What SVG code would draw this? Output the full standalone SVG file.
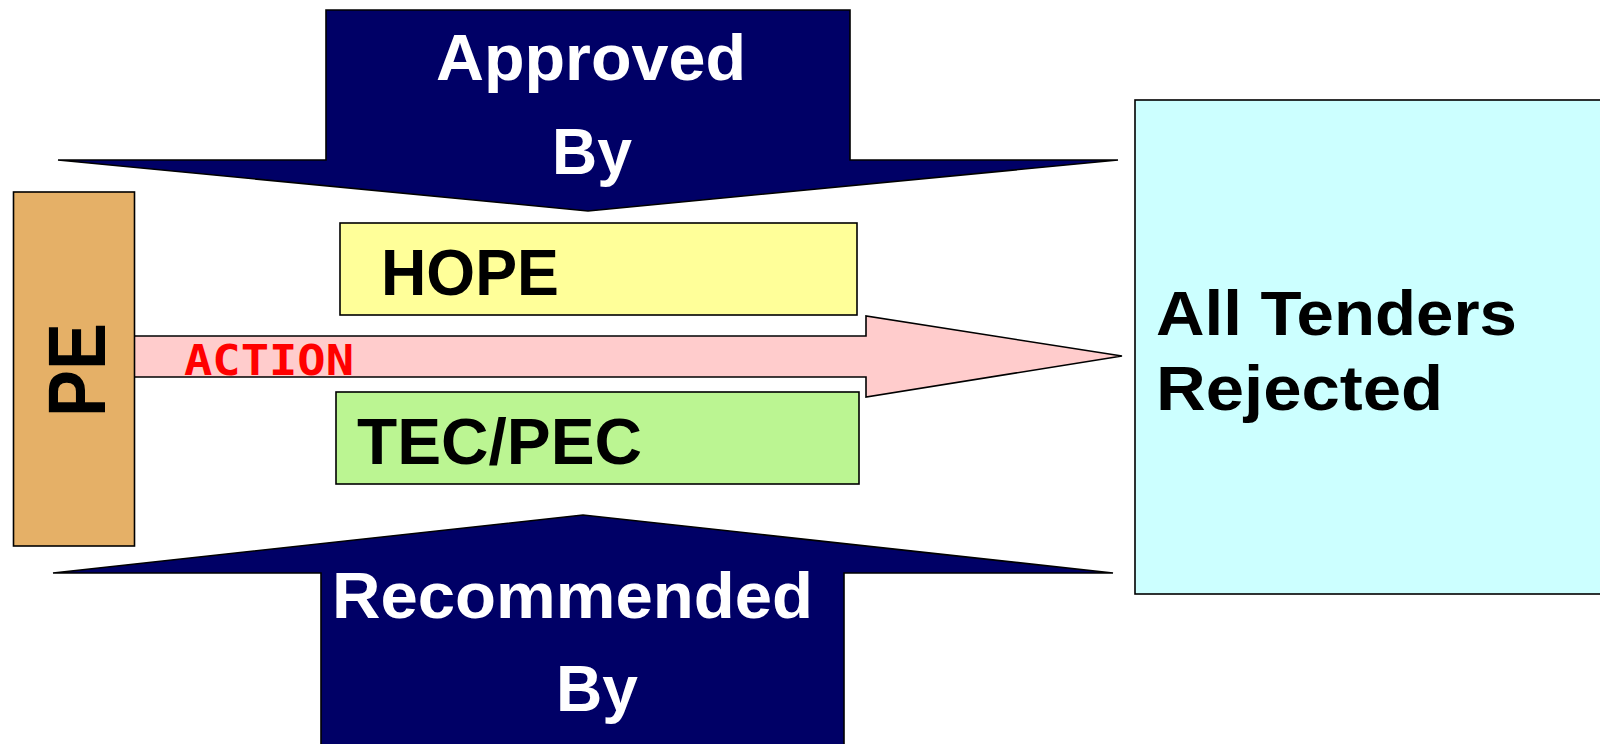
<svg xmlns="http://www.w3.org/2000/svg" width="1600" height="744" viewBox="0 0 1600 744">
<style>
.sh{stroke:#000;stroke-width:1.6;stroke-linejoin:miter}
.navy{fill:#000066}
.wt{fill:#fff;font-family:"Liberation Sans",Arial,sans-serif;font-weight:bold;font-size:64px;text-anchor:middle}
.bk{fill:#000;font-family:"Liberation Sans",Arial,sans-serif;font-weight:bold;font-size:65px}
.pe{font-size:82px;text-anchor:middle}
.tr{font-size:63px}
.act{fill:#ff0000;font-family:"DejaVu Sans Mono","Liberation Mono",monospace;font-weight:bold;font-size:43px}
</style>
<rect width="1600" height="744" fill="#fff"/>
<g id="approved-by">
<polygon class="sh navy" points="326,10 850,10 850,160 1118,160 588,211 58,160 326,160"/>
<text class="wt" x="591" y="80" textLength="310" lengthAdjust="spacingAndGlyphs">Approved</text>
<text class="wt" x="592" y="174" textLength="80" lengthAdjust="spacingAndGlyphs">By</text>
</g>
<g id="recommended-by">
<polygon class="sh navy" points="321,752 321,573 53,573 583,515 1113,573 844,573 844,752"/>
<text class="wt" x="572.5" y="618" textLength="481" lengthAdjust="spacingAndGlyphs">Recommended</text>
<text class="wt" x="597" y="711" textLength="82" lengthAdjust="spacingAndGlyphs">By</text>
</g>
<g id="connectors">
<polygon class="sh" fill="#FFCCCC" points="134,336 866,336 866,316 1122,356 866,397 866,377 134,377"/>
<text class="act" x="184" y="375" textLength="170" lengthAdjust="spacingAndGlyphs">ACTION</text>
</g>
<g id="pe">
<rect class="sh" x="13.5" y="192" width="121" height="354" fill="#E5B067"/>
<text class="bk pe" transform="translate(105,370) rotate(-90)" textLength="94" lengthAdjust="spacingAndGlyphs">PE</text>
</g>
<g id="hope">
<rect class="sh" x="340" y="223" width="517" height="92" fill="#FFFF99"/>
<text class="bk" x="381" y="295" textLength="178" lengthAdjust="spacingAndGlyphs">HOPE</text>
</g>
<g id="tec-pec">
<rect class="sh" x="336" y="392" width="523" height="92" fill="#BBF592"/>
<text class="bk" x="357" y="464" textLength="285" lengthAdjust="spacingAndGlyphs">TEC/PEC</text>
</g>
<g id="all-tenders-rejected">
<rect class="sh" x="1135" y="100" width="470" height="494" fill="#CCFFFF"/>
<text class="bk tr" x="1156" y="335" textLength="361" lengthAdjust="spacingAndGlyphs">All Tenders</text>
<text class="bk tr" x="1156" y="410" textLength="287" lengthAdjust="spacingAndGlyphs">Rejected</text>
</g>
</svg>
